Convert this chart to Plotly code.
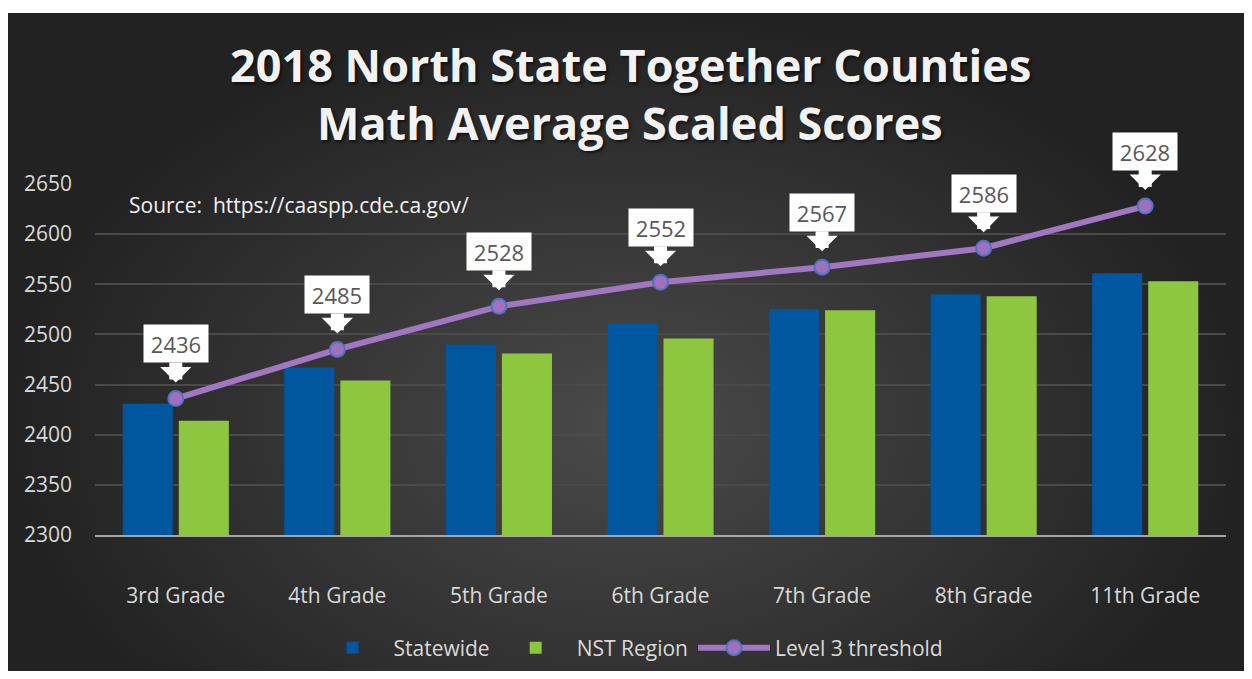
import plotly.graph_objects as go

# ---------------- data ----------------
categories = ["3rd Grade", "4th Grade", "5th Grade", "6th Grade",
              "7th Grade", "8th Grade", "11th Grade"]
statewide = [2431, 2467, 2490, 2511, 2525, 2540, 2561]
nst_region = [2414, 2454, 2481, 2496, 2524, 2538, 2553]
level3_threshold = [2436, 2485, 2528, 2552, 2567, 2586, 2628]
y_tick_vals = [2300, 2350, 2400, 2450, 2500, 2550, 2600, 2650]
title_lines = ["2018 North State Together Counties", "Math Average Scaled Scores"]
source_text = "Source:&nbsp;&nbsp;https://caaspp.cde.ca.gov/"

# ---------------- layout helpers ----------------
# the page has an 8px body margin, so the figure is 16px smaller than the window
OFF = 8
W, H = 1236, 663
ML, MT, MR, MB = 0, 5, 0, 0
PW, PH = W - ML - MR, H - MT - MB


def fx(px):
    """page x pixel -> paper fraction"""
    return (px - OFF - ML) / PW


def fy(py):
    """page y pixel -> paper fraction"""
    return (H - MB - (py - OFF)) / PH


FONT = "Open Sans"
TXT = "#D9D9D9"

fig = go.Figure()

# background with radial gradient (full paper subplot)
fig.add_trace(go.Scatter(
    x=[0, 1, 1, 0, 0], y=[-0.25, -0.25, 1, 1, -0.25],
    fill="toself", mode="none",
    fillgradient=dict(type="radial",
                      colorscale=[[0, "#4a4a4a"], [0.5, "#363636"], [1, "#222222"]]),
    hoverinfo="skip", showlegend=False, xaxis="x", yaxis="y"))

fig.add_trace(go.Bar(
    name="Statewide", x=categories, y=statewide,
    marker=dict(color="#01579F", line=dict(width=0)),
    xaxis="x2", yaxis="y2"))
fig.add_trace(go.Bar(
    name="NST Region", x=categories, y=nst_region,
    marker=dict(color="#8DC63F", line=dict(width=0)),
    xaxis="x2", yaxis="y2"))
fig.add_trace(go.Scatter(
    name="Level 3 threshold", x=categories, y=level3_threshold,
    mode="lines+markers",
    line=dict(color="#A077C0", width=6),
    marker=dict(size=15, color="#A070BE", line=dict(color="#4E73C4", width=2)),
    xaxis="x2", yaxis="y2"))

annotations = []
for c, v in zip(categories, level3_threshold):
    annotations.append(dict(
        xref="x2", yref="y2", x=c, y=v, text=str(v),
        showarrow=True, ax=0, ay=-55, arrowhead=1, arrowwidth=13,
        arrowsize=0.4, arrowcolor="white", standoff=16,
        bgcolor="white", width=64, height=37, borderpad=0,
        font=dict(family=FONT, size=22, color="#595959")))

for line, yy in zip(title_lines, [64, 122]):
    annotations.append(dict(
        xref="paper", yref="paper", x=fx(630), y=fy(yy), xanchor="center", yanchor="middle",
        text="<b>" + line + "</b>", showarrow=False,
        font=dict(family=FONT, size=45, color="#F2F2F2",
                  shadow="2px 2px 3px rgba(0,0,0,0.6)")))
annotations.append(dict(
    xref="paper", yref="paper", x=fx(127), y=fy(205), xanchor="left", yanchor="middle",
    text=source_text, showarrow=False,
    font=dict(family=FONT, size=21, color="#F2F2F2")))

fig.update_layout(
    width=W, height=H,
    margin=dict(l=ML, r=MR, t=MT, b=MB, pad=0, autoexpand=False),
    paper_bgcolor="white", plot_bgcolor="rgba(0,0,0,0)",
    barmode="group", bargap=0.306, bargroupgap=0.107,
    xaxis=dict(domain=[0, 1], range=[0, 1], visible=False, fixedrange=True,
               automargin=False),
    yaxis=dict(domain=[0, 1], range=[0, 1], visible=False, fixedrange=True,
               automargin=False),
    xaxis2=dict(domain=[fx(95), fx(1226)], anchor="y2", type="category",
                showgrid=False, showline=True, linecolor="#A6A6A6", linewidth=2,
                ticks="", ticklabelstandoff=41, automargin=False,
                tickfont=dict(family=FONT, size=21, color=TXT)),
    yaxis2=dict(domain=[fy(535), fy(184)], anchor="x2", range=[2300, 2650],
                tickvals=y_tick_vals, showgrid=True, gridcolor="#4A4A4A", gridwidth=1.5,
                zeroline=False, showline=False, ticks="", ticklabelstandoff=22,
                automargin=False,
                tickfont=dict(family=FONT, size=21, color=TXT)),
    legend=dict(orientation="h", x=fx(630), xanchor="center", y=fy(648), yanchor="middle",
                font=dict(family=FONT, size=21, color=TXT), bgcolor="rgba(0,0,0,0)",
                itemwidth=72),
    annotations=annotations,
    showlegend=True,
)

fig.write_html("out.html")
